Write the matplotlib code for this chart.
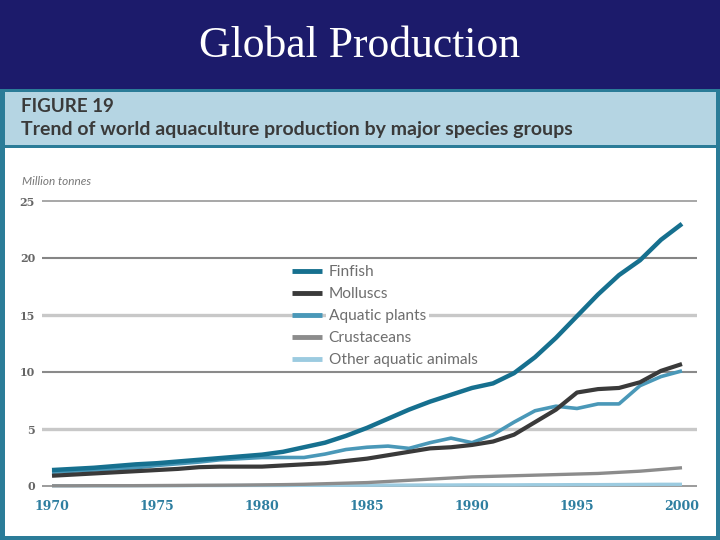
import matplotlib
matplotlib.use("Agg")
import matplotlib.pyplot as plt
from matplotlib.patches import Rectangle

years = list(range(1970, 2001))
finfish = [1.4, 1.5, 1.6, 1.75, 1.9, 2.0, 2.15, 2.3, 2.45, 2.6, 2.75, 3.0, 3.4, 3.8, 4.4,
           5.1, 5.9, 6.7, 7.4, 8.0, 8.6, 9.0, 9.9, 11.3, 13.0, 14.9, 16.8, 18.5, 19.8, 21.6, 23.0]
molluscs = [0.9, 1.0, 1.1, 1.2, 1.3, 1.4, 1.5, 1.65, 1.7, 1.7, 1.7, 1.8, 1.9, 2.0, 2.2,
            2.4, 2.7, 3.0, 3.3, 3.4, 3.6, 3.9, 4.5, 5.6, 6.7, 8.2, 8.5, 8.6, 9.1, 10.1, 10.7]
plants = [1.2, 1.3, 1.4, 1.5, 1.6, 1.8, 1.95, 2.1, 2.3, 2.4, 2.5, 2.5, 2.5, 2.8, 3.2,
          3.4, 3.5, 3.3, 3.8, 4.2, 3.8, 4.5, 5.6, 6.6, 7.0, 6.8, 7.2, 7.2, 8.8, 9.6, 10.1]
crustaceans = [0.02, 0.02, 0.03, 0.03, 0.03, 0.04, 0.05, 0.06, 0.07, 0.08, 0.1, 0.12, 0.15, 0.2, 0.25,
               0.3, 0.4, 0.5, 0.6, 0.7, 0.8, 0.85, 0.9, 0.95, 1.0, 1.05, 1.1, 1.2, 1.3, 1.45, 1.6]
others = [0.02, 0.02, 0.02, 0.02, 0.03, 0.03, 0.03, 0.04, 0.04, 0.05, 0.05, 0.05, 0.06, 0.06, 0.07,
          0.07, 0.08, 0.08, 0.09, 0.09, 0.1, 0.1, 0.1, 0.11, 0.11, 0.12, 0.12, 0.13, 0.14, 0.15, 0.15]
series_names = ["Finfish", "Molluscs", "Aquatic plants", "Crustaceans", "Other aquatic animals"]
y_ticks = [0, 5, 10, 15, 20, 25]
x_ticks = [1970, 1975, 1980, 1985, 1990, 1995, 2000]

W, H = 720, 540
fig = plt.figure(figsize=(7.2, 5.4), dpi=100)
fig.patch.set_facecolor("white")

def rect(x0, y0, x1, y1, color):
    # pixel coords, y from top
    fig.patches.append(Rectangle((x0 / W, 1 - y1 / H), (x1 - x0) / W, (y1 - y0) / H,
                                 transform=fig.transFigure, facecolor=color,
                                 edgecolor="none", zorder=-10))

rect(0, 0, 720, 89, "#1c1b6b")
rect(0, 89, 720, 540, "#2b7c98")
rect(5, 92, 716, 536, "white")
rect(5, 92, 716, 145, "#b5d5e3")
rect(5, 145, 716, 148, "#2b7c98")

fig.text(360 / W, 1 - 46 / H, "Global Production", color="white", ha="center", va="center",
         fontsize=31.5, family="Liberation Serif")
fig.text(21 / W, 1 - 106 / H, "FIGURE 19", color="#3a3a3a", ha="left", va="center",
         fontsize=13.5, family="Lato", weight="bold")
fig.text(21 / W, 1 - 129 / H, "Trend of world aquaculture production by major species groups",
         color="#3a3a3a", ha="left", va="center",
         fontsize=14, family="Lato", weight="bold")
fig.text(22 / W, 1 - 181 / H, "Million tonnes", color="#777777", ha="left", va="center",
         fontsize=8.5, style="italic", family="Lato")

ax_l, ax_r, ax_t, ax_b = 42, 697, 195, 496
ax = fig.add_axes([ax_l / W, 1 - ax_b / H, (ax_r - ax_l) / W, (ax_b - ax_t) / H])
ax.set_facecolor("none")
x0px, x1px = 52, 682
pxyr = (x1px - x0px) / 30
ax.set_xlim(1970 + (ax_l - x0px) / pxyr, 2000 + (ax_r - x1px) / pxyr)
y0px, y25px = 486, 201
pxu = (y0px - y25px) / 25
ax.set_ylim((y0px - ax_b) / pxu, (y0px - ax_t) / pxu)
for s in ax.spines.values():
    s.set_visible(False)

grid_style = {0: ("#8a8a8a", 1.2), 5: ("#c8c8c8", 2.4), 10: ("#8a8a8a", 1.5),
              15: ("#c8c8c8", 2.4), 20: ("#858585", 1.5), 25: ("#909090", 1.1)}
for v in y_ticks:
    c, lw = grid_style[v]
    ax.axhline(v, color=c, lw=lw, zorder=1)

colors = ["#16708f", "#3a3a3a", "#4a98b8", "#8c8c8c", "#9ccbe0"]
data = [finfish, molluscs, plants, crustaceans, others]
widths = [3.2, 3.0, 2.6, 2.4, 2.4]
zs = [7, 6, 5, 4, 3]
handles = []
for name, vals, c, lw, z in zip(series_names, data, colors, widths, zs):
    (ln,) = ax.plot(years, vals, color=c, lw=lw, zorder=z, solid_capstyle="butt",
                    label=name)
    handles.append(ln)

ax.set_yticks(y_ticks)
ax.set_yticklabels([str(v) for v in y_ticks], color="#666666", fontsize=8,
                   weight="bold", family="DejaVu Serif")
ax.set_xticks(x_ticks)
ax.set_xticklabels([str(v) for v in x_ticks], color="#2e7ea0", fontsize=9,
                   weight="bold", family="DejaVu Serif")
ax.tick_params(axis="y", length=0, pad=5)
ax.tick_params(axis="x", length=0, pad=3)

leg = ax.legend(handles=handles, loc="upper left",
                bbox_to_anchor=((289 - ax_l) / (ax_r - ax_l), (ax_b - 262) / (ax_b - ax_t)),
                borderaxespad=0, frameon=False, handlelength=1.95, handletextpad=0.4,
                labelspacing=0.52, borderpad=0.2, prop={"family": "Lato", "size": 11.2})
for t in leg.get_texts():
    t.set_color("#6e6e6e")
    t.set_bbox(dict(facecolor="white", edgecolor="none", pad=2))
for lh in leg.get_lines():
    lh.set_linewidth(3.5)
leg.set_zorder(10)

fig.savefig("out.png", dpi=100, facecolor=fig.get_facecolor())
